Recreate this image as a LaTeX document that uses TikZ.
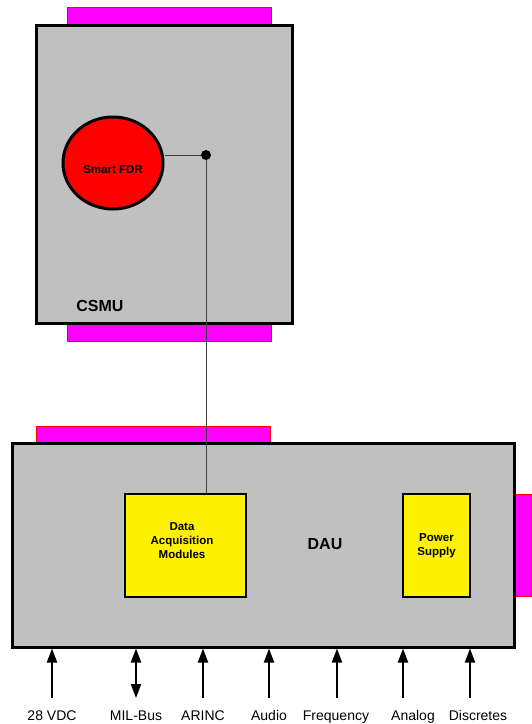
\documentclass[tikz,border=0pt]{standalone}
\usepackage{fontspec}
\setmainfont{Liberation Sans}
\usetikzlibrary{arrows.meta,positioning,shapes.geometric}
\definecolor{boxgray}{HTML}{C0C0C0}
\definecolor{portpink}{HTML}{FF00FF}
\definecolor{wiregray}{HTML}{404040}
\tikzset{
  unitbox/.style={draw=black, line width=3pt, fill=boxgray, inner sep=0pt},
  portbar/.style={draw=red, fill=portpink, line width=0.8pt, inner sep=0pt},
  modbox/.style={draw=black, line width=2pt, fill=yellow, inner sep=0pt, align=center,
    font=\bfseries\fontsize{11.5}{14}\selectfont},
  unitlabel/.style={font=\bfseries\fontsize{16}{18}\selectfont},
  siglabel/.style={anchor=base, font=\fontsize{14}{16}\selectfont},
  sigin/.style={line width=2pt, -{Triangle[length=14pt,width=10pt]}},
  sigbus/.style={line width=2pt, {Triangle[length=14pt,width=10pt]}-{Triangle[length=14pt,width=10pt]}},
  wire/.style={line width=1pt, wiregray},
}
\begin{document}
\begin{tikzpicture}[x=1pt,y=-1pt]
        \useasboundingbox (0,0) rectangle (531,724);
        % CSMU with its connectors
        \node[portbar, minimum width=204pt, minimum height=17pt] (csmutop) at (169,15.5) {};
        \node[portbar, minimum width=204pt, minimum height=17pt] (csmubot) at (169,332.5) {};
        \node[unitbox, minimum width=256pt, minimum height=298pt] (csmu) at (164,174) {};
        \node[unitlabel] (csmulab) at (100,306) {CSMU};
        \node[ellipse, draw=black, line width=3pt, fill=red, inner sep=0pt,
          minimum width=100pt, minimum height=92pt] (fdr) at (113,163) {};
        \node[font=\bfseries\fontsize{11.5}{14}\selectfont] (fdrlab) at (113,170) {Smart FDR};
        \node[circle, fill=black, inner sep=0pt, minimum size=10pt] (tap) at (206,155) {};
        % DAU with its connectors
        \node[portbar, minimum width=234pt, minimum height=18pt] (dautop) at (153,435) {};
        \node[portbar, minimum width=17pt, minimum height=102pt] (dauside) at (522.5,545) {};
        \node[unitbox, minimum width=502pt, minimum height=204pt] (dau) at (263,545) {};
        \node[unitlabel] (daulab) at (325,544) {DAU};
        \node[modbox, minimum width=121pt, minimum height=103pt] (dam) at (185.5,545.5) {};
        \node[modbox, fill=none, draw=none] (damlab) at (182,541) {Data\\Acquisition\\Modules};
        \node[modbox, minimum width=67pt, minimum height=103pt] (power) at (436.5,545.5) {Power\\Supply};
        % link from the FDR down to the modules
        \draw[wire] (fdr.east |- tap) -- (tap);
        \draw[wire] (tap) -- (tap |- dam.north);
        % signal inputs
        \foreach \ax/\lx/\lab/\nm/\kind in {52/52/28 VDC/vdc/sigin, 136/136/MIL-Bus/milbus/sigbus,
            203/203/ARINC/arinc/sigin, 269/269/Audio/audio/sigin, 337/336/Frequency/freq/sigin,
            403/413/Analog/analog/sigin, 470/478/Discretes/discr/sigin} {
          \node[siglabel] (\nm) at (\lx,720) {\lab};
          \coordinate (\nm end) at (\ax,698);
          \draw[\kind] (\nm end) -- (\nm end |- dau.south);
        }
      \end{tikzpicture}
\end{document}
